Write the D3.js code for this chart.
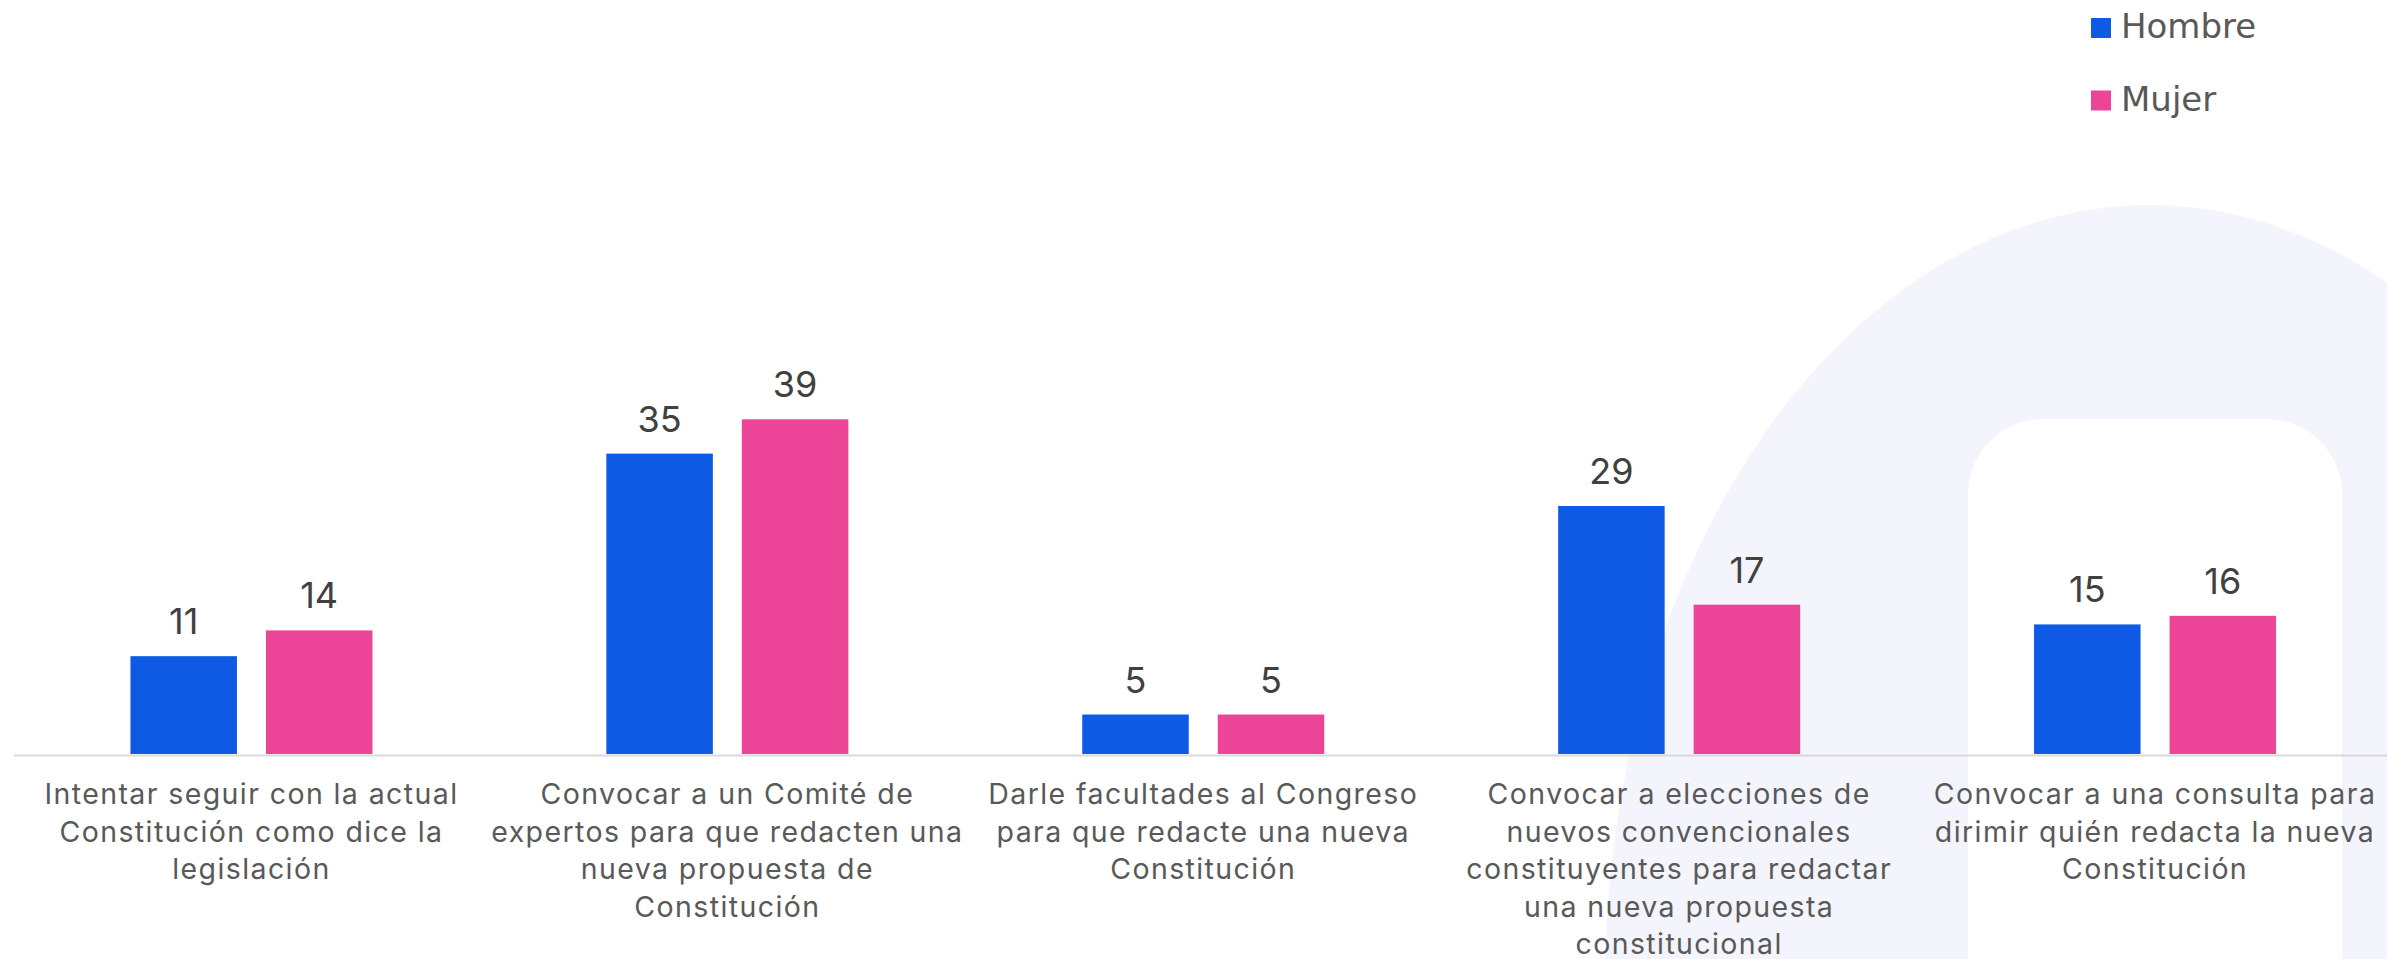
<!DOCTYPE html>
<html>
<head>
<meta charset="utf-8">
<script src="https://cdn.jsdelivr.net/npm/d3@7"></script>
<style>
  body { margin: 0; background: #fff; }
  svg { display: block; }
</style>
</head>
<body>
<svg id="chart"></svg>
<script>
// labels as they are broken in the original chart
const categoryLines = [
  ['Intentar seguir con la actual', 'Constitución como dice la', 'legislación'],
  ['Convocar a un Comité de', 'expertos para que redacten una', 'nueva propuesta de', 'Constitución'],
  ['Darle facultades al Congreso', 'para que redacte una nueva', 'Constitución'],
  ['Convocar a elecciones de', 'nuevos convencionales', 'constituyentes para redactar', 'una nueva propuesta', 'constitucional'],
  ['Convocar a una consulta para', 'dirimir quién redacta la nueva', 'Constitución'],
];
const categories = categoryLines.map((lines) => lines.join(' '));
const seriesNames = ['Hombre', 'Mujer'];
const hombre = [11.4, 35.0, 4.6, 28.9, 15.1];
const mujer = [14.4, 39.0, 4.6, 17.4, 16.1];

const WIDTH = 2387;
const HEIGHT = 959;
const BASELINE = 755;
const COLORS = {Hombre: '#0F5AE5', Mujer: '#EC4497'};

const svg = d3.select('#chart').attr('width', WIDTH).attr('height', HEIGHT);

// faint logo shape behind the plot
const bg = svg.append('g');
bg.append('ellipse')
  .attr('cx', 2150).attr('cy', 985)
  .attr('rx', 545).attr('ry', 780)
  .attr('fill', '#F4F5FC');
bg.append('rect')
  .attr('x', 1968).attr('y', 419)
  .attr('width', 374).attr('height', 620)
  .attr('rx', 75)
  .attr('fill', '#FFFFFF');

const x0 = d3.scaleBand().domain(categories).range([13.5, 2393]);
const x1 = d3.scaleBand().domain(seriesNames).range([-121, 121]).paddingInner(0.214);
const y = d3.scaleLinear().domain([0, 39]).range([BASELINE - 1, 419.3]);

const rows = categories.map((c, i) => ({
  category: c,
  values: [
    {series: 'Hombre', value: hombre[i]},
    {series: 'Mujer', value: mujer[i]},
  ],
}));

const groups = svg.append('g').selectAll('g')
  .data(rows)
  .join('g')
  .attr('transform', (d) => `translate(${x0(d.category) + x0.bandwidth() / 2},0)`);

groups.selectAll('rect')
  .data((d) => d.values)
  .join('rect')
  .attr('x', (d) => x1(d.series))
  .attr('y', (d) => y(d.value))
  .attr('width', x1.bandwidth())
  .attr('height', (d) => y(0) - y(d.value))
  .attr('fill', (d) => COLORS[d.series]);

groups.selectAll('text.value')
  .data((d) => d.values)
  .join('text')
  .attr('class', 'value')
  .attr('x', (d) => x1(d.series) + x1.bandwidth() / 2)
  .attr('y', (d) => y(d.value) - 22)
  .attr('text-anchor', 'middle')
  .attr('font-family', 'Inter, sans-serif')
  .attr('font-size', 36)
  .attr('fill', '#404040')
  .text((d) => d3.format('.0f')(d.value));

// x axis: only the grey baseline, labels drawn as multi-line text
const xAxis = svg.append('g')
  .attr('transform', `translate(0,${BASELINE})`)
  .call(d3.axisBottom(x0).tickSize(0).tickSizeOuter(0).tickPadding(0));
xAxis.select('.domain').attr('stroke', '#D9D9D9').attr('stroke-width', 2);
xAxis.selectAll('.tick text').each(function(d, i) {
  const text = d3.select(this)
    .attr('y', 49)
    .attr('dy', null)
    .attr('font-family', 'Inter, sans-serif')
    .attr('font-size', 28.5)
    .attr('letter-spacing', 1.4)
    .attr('fill', '#595959')
    .text(null);
  categoryLines[i].forEach((line, j) => {
    text.append('tspan')
      .attr('x', 0)
      .attr('y', 49 + j * 37.5)
      .text(line);
  });
});

// legend, top right
const legend = svg.append('g').attr('transform', 'translate(2091,18)');
const items = legend.selectAll('g')
  .data(seriesNames)
  .join('g')
  .attr('transform', (d, i) => `translate(0,${i * 72.5})`);
items.append('rect')
  .attr('width', 20).attr('height', 20)
  .attr('fill', (d) => COLORS[d]);
items.append('text')
  .attr('x', 30).attr('y', 20)
  .attr('font-family', '"DejaVu Sans", sans-serif')
  .attr('font-size', 34)
  .attr('fill', '#595959')
  .text((d) => d);
</script>
</body>
</html>
